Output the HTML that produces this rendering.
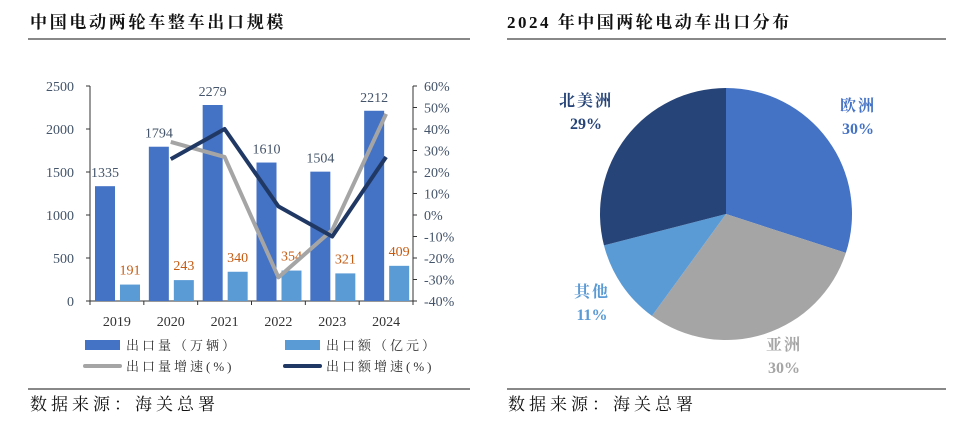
<!DOCTYPE html>
<html><head><meta charset="utf-8"><style>
body{margin:0;background:#fff;width:978px;height:438px;overflow:hidden;font-family:"Liberation Serif","Noto Serif CJK SC",serif;}
svg text{font-family:"Liberation Serif","Noto Serif CJK SC",serif;}
</style></head><body>
<svg id="s" width="978" height="438" xmlns="http://www.w3.org/2000/svg">
<text x="30" y="28" font-size="17" font-weight="bold" fill="#111" letter-spacing="2.7">中国电动两轮车整车出口规模</text>
<line x1="28" y1="39" x2="470" y2="39" stroke="#111" stroke-width="1"/>
<text x="507" y="28" font-size="17" font-weight="bold" fill="#111" letter-spacing="2.5">2024 年中国两轮电动车出口分布</text>
<line x1="507" y1="39" x2="946" y2="39" stroke="#111" stroke-width="1"/>
<line x1="28" y1="389" x2="470" y2="389" stroke="#111"/>
<line x1="507" y1="389" x2="946" y2="389" stroke="#111"/>
<text x="30" y="410" font-size="17" fill="#111" letter-spacing="4">数据来源：海关总署</text>
<text x="508" y="410" font-size="17" fill="#111" letter-spacing="4">数据来源：海关总署</text>
<g id="bar"></g><g id="pie"></g>
</svg>
<script>
const years=["2019","2020","2021","2022","2023","2024"];
const volume=[1335,1794,2279,1610,1504,2212];
const amount=[191,243,340,354,321,409];
const volGrowth=[null,34,27,-29,-7,47];
const amtGrowth=[null,26,40,4,-10,27];
const leftTicks=[0,500,1000,1500,2000,2500];
const rightTicks=[-40,-30,-20,-10,0,10,20,30,40,50,60];
const pieLabels=["欧洲","亚洲","其他","北美洲"];
const pieValues=[30,30,11,29];

const NS="http://www.w3.org/2000/svg";
function mk(p,t,a,txt){const e=document.createElementNS(NS,t);for(const k in a)e.setAttribute(k,a[k]);if(txt!=null)e.textContent=txt;p.appendChild(e);return e;}
const g=document.getElementById('bar');
const X0=90,X1=413,Y0=301,Y1=86;
const gw=(X1-X0)/years.length;
const yL=v=>Y0-(v/2500)*(Y0-Y1);
const yR=v=>Y0-((v+40)/100)*(Y0-Y1);
const xc=i=>X0+gw*(i+0.5);
let e=mk(g,'line',{x1:X0,y1:Y1,x2:X0,y2:Y0,stroke:'#333'});

e=mk(g,'line',{x1:X1,y1:Y1,x2:X1,y2:Y0,stroke:'#333'});

e=mk(g,'line',{x1:X0,y1:Y0,x2:X1,y2:Y0,stroke:'#333'});

leftTicks.forEach(t=>{mk(g,'line',{x1:X0-4,x2:X0,y1:yL(t),y2:yL(t),stroke:'#333'});
 e=mk(g,'text',{x:X0-16,y:yL(t)+5,'font-size':14,fill:'#44546A','text-anchor':'end'},t);
 });
rightTicks.forEach(t=>{mk(g,'line',{x1:X1,x2:X1+4,y1:yR(t),y2:yR(t),stroke:'#333'});
 e=mk(g,'text',{x:X1+11,y:yR(t)+5,'font-size':14,fill:'#44546A'},t+'%');
 });
for(let i=0;i<=years.length;i++)mk(g,'line',{x1:X0+gw*i,x2:X0+gw*i,y1:Y0,y2:Y0+4,stroke:'#333'});
years.forEach((y,i)=>{
 e=mk(g,'text',{x:xc(i),y:Y0+25,'font-size':14,fill:'#333','text-anchor':'middle'},y);
 
 const bx=X0+gw*i+5;
 e=mk(g,'rect',{x:bx,y:yL(volume[i]),width:20,height:Y0-yL(volume[i]),fill:'#4472C4'});
 
 e=mk(g,'rect',{x:bx+25,y:yL(amount[i]),width:20,height:Y0-yL(amount[i]),fill:'#5B9BD5'});
 
 e=mk(g,'text',{x:bx+10,y:yL(volume[i])-9,'font-size':14,fill:'#44546A','text-anchor':'middle'},volume[i]);
 
 e=mk(g,'text',{x:bx+35,y:yL(amount[i])-10,'font-size':14,fill:'#C55A11','text-anchor':'middle'},amount[i]);
 
});
function line(arr,col,name){const pts=[];arr.forEach((v,i)=>{if(v!=null)pts.push(xc(i)+','+yR(v));});
 const l=mk(g,'polyline',{points:pts.join(' '),fill:'none',stroke:col,'stroke-width':4,'stroke-linejoin':'round'});
 }
line(volGrowth,'#A5A5A5','line-volume-growth');
line(amtGrowth,'#203864','line-amount-growth');
const leg=[["出口量（万辆）",'#4472C4','r',85,345],["出口额（亿元）",'#5B9BD5','r',285,345],["出口量增速(%)",'#A5A5A5','l',85,366],["出口额增速(%)",'#203864','l',285,366]];
leg.forEach(L=>{
 if(L[2]=='r')e=mk(g,'rect',{x:L[3],y:L[4]-5,width:35,height:10,fill:L[1]});
 else e=mk(g,'line',{x1:L[3],x2:L[3]+35,y1:L[4],y2:L[4],stroke:L[1],'stroke-width':4,'stroke-linecap':'round'});
 
 e=mk(g,'text',{x:L[3]+41,y:L[4]+5,'font-size':13,fill:'#333','letter-spacing':3},L[0]);
 
});
const p=document.getElementById('pie');
const cx=726,cy=214,r=126;
const cols=['#4472C4','#A5A5A5','#5B9BD5','#264478'];
const lpos=[[858,111],[784,350],[592,297],[586,106]];
const tot=pieValues.reduce((a,b)=>a+b,0);
let a0=0;
pieValues.forEach((v,i)=>{
 const a1=a0+v/tot*2*Math.PI;
 const x0=cx+r*Math.sin(a0),y0=cy-r*Math.cos(a0),x1=cx+r*Math.sin(a1),y1=cy-r*Math.cos(a1);
 e=mk(p,'path',{d:`M${cx},${cy}L${x0},${y0}A${r},${r} 0 ${a1-a0>Math.PI?1:0} 1 ${x1},${y1}Z`,fill:cols[i]});
 
 const tc=i==1?'#A5A5A5':cols[i];
 e=mk(p,'text',{x:lpos[i][0],y:lpos[i][1],'font-size':16,'font-weight':'bold',fill:tc,'text-anchor':'middle','letter-spacing':2},pieLabels[i]);
 
 e=mk(p,'text',{x:lpos[i][0],y:lpos[i][1]+23,'font-size':16,'font-weight':'bold',fill:tc,'text-anchor':'middle'},v+'%');
 
 a0=a1;
});
</script>
</body></html>
